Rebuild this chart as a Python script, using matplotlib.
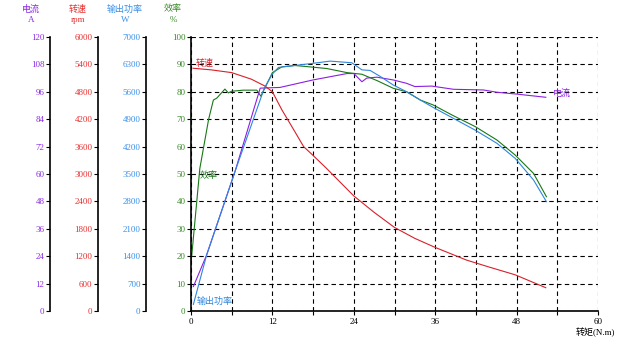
import matplotlib
matplotlib.use("Agg")
import matplotlib.pyplot as plt

plt.rcParams['font.family'] = ['Liberation Serif', 'Noto Sans CJK SC']

# torque (N.m) / speed (rpm)
speed_t = [0.3, 3, 6, 8.9, 10.9, 12, 13.4, 15.3, 16.6, 17.9, 20, 24, 27, 30, 33, 36, 40.6, 44, 47.8, 52.3]
speed_v = [5316, 5280, 5220, 5076, 4926, 4800, 4404, 3930, 3600, 3420, 3120, 2520, 2160, 1830, 1590, 1392,
           1116, 960, 792, 510]

# torque / efficiency (%)
eff_t = [0, 0.1, 1.3, 2.6, 3.3, 3.8, 5, 5.5, 6, 7.7, 9.7, 10.3, 12, 13.4, 15.3, 17.5, 20, 23, 25.2, 27.5,
         29.8, 31.8, 33.8, 35.7, 38.5, 41.9, 45.1, 47.8, 50.5, 52.4]
eff_v = [18.5, 20, 52, 70, 77, 77.7, 81, 79.6, 80.2, 80.6, 80.6, 78.4, 87, 89.1, 89.6, 89.1, 88.5, 87, 86.4,
         84, 81.3, 80, 77, 75.2, 71.5, 67.3, 62.4, 56.9, 50.2, 41.7]

# torque / output power (W)
power_t = [0.35, 2.3, 6.5, 10.8, 12, 12.9, 15.3, 18, 20.5, 23.7, 25.2, 26.4, 27.9, 29.8, 31.8, 33.8, 35.7,
           41.9, 45.1, 47.8, 50.5, 52.4]
power_v = [168, 1428, 3570, 5691, 6055, 6223, 6272, 6328, 6384, 6342, 6160, 6146, 5992, 5775, 5600, 5390,
           5201, 4620, 4284, 3899, 3346, 2793]

# torque / current (A)
cur_t = [0.35, 2.3, 6.5, 10.2, 12, 13.1, 18, 23, 24, 25.2, 25.9, 27.4, 29.8, 31.8, 33, 35.5, 38.7, 43.1,
         45.1, 48, 52.3]
cur_v = [10.7, 24.5, 61.2, 97.6, 97.8, 97.9, 101.2, 104, 104, 100.4, 102, 102.4, 101.2, 99.7, 98.3, 98.5,
         97.1, 96.8, 95.8, 95, 93.6]

c_cur = '#8B1FE0'
c_speed = '#D8202A'
c_power = '#2E86DE'
c_eff = '#187818'
fs = 6.5

fig = plt.figure(figsize=(6.32, 3.55), dpi=100)
W, H = 632, 355
x0, x1, y0, y1 = 191, 598, 311, 37
ax = fig.add_axes([x0 / W, 1 - y0 / H, (x1 - x0) / W, (y0 - y1) / H])

# main axis: efficiency
ax.set_xlim(0, 60)
ax.set_ylim(0, 100)
ax.set_xticks(range(0, 61, 6))
ax.set_xticklabels([str(v) if v % 12 == 0 else '' for v in range(0, 61, 6)])
ax.set_yticks(range(0, 101, 10))
ax.grid(True, color='black', linestyle=(0, (4, 3)), linewidth=0.8)
for s in ['top', 'right']:
    ax.spines[s].set_visible(False)
ax.spines['left'].set_linewidth(1.2)
ax.spines['bottom'].set_linewidth(1.2)
ax.tick_params(axis='y', labelsize=fs, labelcolor='#3A8A2A', length=3, pad=1)
ax.tick_params(axis='x', labelsize=fs, length=3, pad=2)
ax.plot(eff_t, eff_v, color=c_eff, lw=0.8)


def side_axis(top, pos, color):
    t = ax.twinx()
    t.set_ylim(0, top)
    t.set_yticks([top * i / 10 for i in range(11)])
    t.set_yticklabels([f'{top * i / 10:g}' for i in range(11)])
    t.yaxis.set_ticks_position('left')
    t.spines['left'].set_position(('axes', pos))
    t.spines['left'].set_visible(True)
    t.spines['left'].set_linewidth(1.2)
    for s in ['top', 'right', 'bottom']:
        t.spines[s].set_visible(False)
    t.tick_params(axis='y', labelsize=fs, labelcolor=color, length=3, pad=1)
    return t


ax_cur = side_axis(120, (50 - x0) / (x1 - x0), '#8B2BE2')
ax_speed = side_axis(6000, (98 - x0) / (x1 - x0), '#E83030')
ax_power = side_axis(7000, (146 - x0) / (x1 - x0), '#3A90E8')

ax_speed.plot(speed_t, speed_v, color=c_speed, lw=0.8)
ax_power.plot(power_t, power_v, color=c_power, lw=0.8)
ax_cur.plot(cur_t, cur_v, color=c_cur, lw=0.8)

# curve labels
ax.text(0.7, 89.5, '转速', color=c_speed, fontsize=fs)
ax.text(1.3, 49.5, '效率', color=c_eff, fontsize=fs, va='center')
ax.text(0.8, 3.5, '输出功率', color=c_power, fontsize=fs, va='center')
ax.text(53.3, 79.3, '电流', color=c_cur, fontsize=fs, va='center')

# axis headers
for x, name, unit, col in [(31, '电流', 'A', '#8B2BE2'), (78, '转速', 'rpm', '#E83030'),
                           (125, '输出功率', 'W', '#3A90E8'), (173, '效率', '%', '#3A8A2A')]:
    fig.text(x / W, 1 - 9 / H, name, color=col, fontsize=fs, ha='center', va='center')
    fig.text(x / W, 1 - 20 / H, unit, color=col, fontsize=fs, ha='center', va='center')

fig.text(595 / W, 1 - 332 / H, '转矩(N.m)', fontsize=fs, ha='center', va='center')

fig.savefig('out.png', dpi=100)
